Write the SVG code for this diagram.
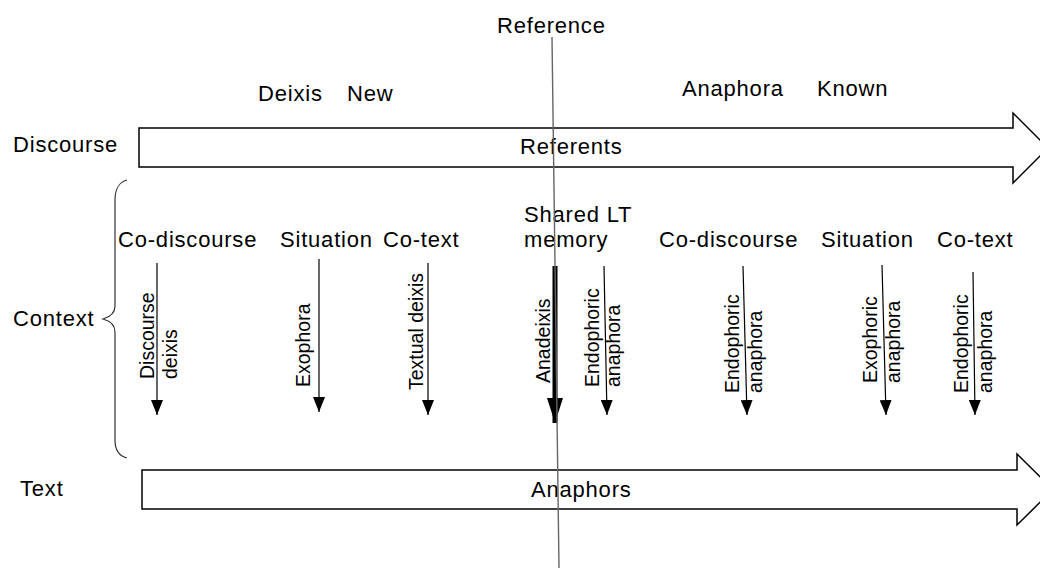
<svg xmlns="http://www.w3.org/2000/svg" width="1040" height="570" viewBox="0 0 1040 570">
<style>
text{font-family:"Liberation Sans",Arial,sans-serif;fill:#000}
.h{font-size:22px;letter-spacing:0.8px}
.r{font-size:19.5px}
.big{fill:#fff;stroke:#000;stroke-width:1.5}
.v{stroke:#000;stroke-width:1.2;fill:none}
</style>
<defs>
<marker id="ah" viewBox="0 0 15 12" markerWidth="15" markerHeight="12" refX="15" refY="6" orient="auto" markerUnits="userSpaceOnUse">
<path d="M0,0 L15,6 L0,12 Z" fill="#000"/>
</marker>
<marker id="ahb" viewBox="0 0 25 16" markerWidth="25" markerHeight="16" refX="25" refY="8" orient="auto" markerUnits="userSpaceOnUse">
<path d="M0,0 L25,8 L0,16 Z" fill="#000"/>
</marker>
</defs>

<g id="top-labels">
<text class="h" x="497" y="33">Reference</text>
<text class="h" x="258" y="101">Deixis</text>
<text class="h" x="347" y="101">New</text>
<text class="h" x="682" y="96">Anaphora</text>
<text class="h" x="817" y="96">Known</text>
</g>

<g id="discourse">
<text class="h" x="13" y="152">Discourse</text>
<path class="big" d="M139,128 H1013 V113 L1048,148 L1013,183 V167 H139 Z"/>
<text class="h" x="520" y="154">Referents</text>
</g>

<g id="context">
<text class="h" x="13" y="326">Context</text>
<path d="M127,180 C119,182 115,190 115,200 V306 C115,313 110,317 103,319 C110,321 115,325 115,332 V440 C115,450 119,456 127,458" fill="none" stroke="#333" stroke-width="1.2"/>
</g>

<g id="context-labels">
<text class="h" x="118" y="247">Co-discourse</text>
<text class="h" x="280" y="247">Situation</text>
<text class="h" x="383" y="247">Co-text</text>
<text class="h" x="524" y="222">Shared LT</text>
<text class="h" x="524" y="247">memory</text>
<text class="h" x="659" y="247">Co-discourse</text>
<text class="h" x="821" y="247">Situation</text>
<text class="h" x="937" y="247">Co-text</text>
</g>

<g id="text-row">
<text class="h" x="20" y="496">Text</text>
<path class="big" d="M142,470 H1017 V454 L1053,489.5 L1017,525 V509 H142 Z"/>
<text class="h" x="531" y="497">Anaphors</text>
</g>

<g id="connectors">
<line class="v" x1="157" y1="263" x2="157" y2="415" marker-end="url(#ah)"/>
<line class="v" x1="319" y1="259" x2="319" y2="412" marker-end="url(#ah)"/>
<line class="v" x1="428" y1="263" x2="428" y2="415" marker-end="url(#ah)"/>
<line x1="555" y1="266" x2="555" y2="423" stroke="#000" stroke-width="5" marker-end="url(#ahb)"/>
<line class="v" x1="604" y1="266" x2="607" y2="415" marker-end="url(#ah)"/>
<line class="v" x1="743" y1="266" x2="747" y2="415" marker-end="url(#ah)"/>
<line class="v" x1="882" y1="265" x2="886" y2="415" marker-end="url(#ah)"/>
<line class="v" x1="973" y1="272" x2="975" y2="415" marker-end="url(#ah)"/>
<line x1="552" y1="37" x2="559" y2="568" stroke="#666" stroke-width="1.4"/>
</g>

<g id="arrow-labels">
<text class="r" transform="translate(154,379) rotate(-90)"><tspan x="0" y="0">Discourse</tspan><tspan x="0" y="23">deixis</tspan></text>
<text class="r" transform="translate(310,387) rotate(-90)">Exophora</text>
<text class="r" transform="translate(423,390) rotate(-90)">Textual deixis</text>
<text class="r" transform="translate(550,383) rotate(-90)">Anadeixis</text>
<text class="r" transform="translate(599,387) rotate(-90)"><tspan x="0" y="0">Endophoric</tspan><tspan x="0" y="21">anaphora</tspan></text>
<text class="r" transform="translate(739,393) rotate(-90)"><tspan x="0" y="0">Endophoric</tspan><tspan x="0" y="23">anaphora</tspan></text>
<text class="r" transform="translate(877,383) rotate(-90)"><tspan x="0" y="0">Exophoric</tspan><tspan x="0" y="23">anaphora</tspan></text>
<text class="r" transform="translate(968,393) rotate(-90)"><tspan x="0" y="0">Endophoric</tspan><tspan x="0" y="24">anaphora</tspan></text>
</g>
</svg>
